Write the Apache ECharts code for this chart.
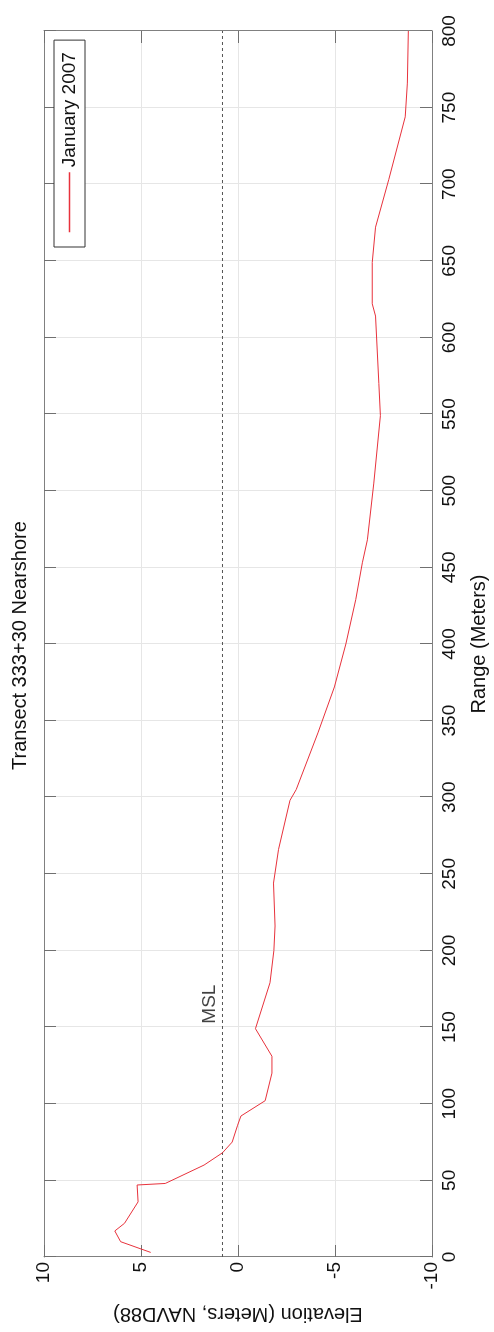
<!DOCTYPE html>
<html>
<head>
<meta charset="utf-8">
<script src="https://cdn.jsdelivr.net/npm/echarts@6/dist/echarts.min.js"></script>
<style>
  html, body { margin: 0; padding: 0; width: 494px; height: 1332px; overflow: hidden; background: #fff; }
  /* Landscape figure turned a quarter turn counter-clockwise onto the portrait page */
  #chart {
    position: absolute; left: 0; top: 0;
    width: 1332px; height: 494px;
    transform-origin: 0 0;
    transform: translateY(1332px) rotate(-90deg);
  }
</style>
</head>
<body>
<div id="chart"></div>
<script>
// Beach profile, transect 333+30 (range along transect in m, elevation in m NAVD88)
const rangeM = [3, 10, 17, 22, 36, 47, 48, 60, 68, 75, 86, 92, 102, 120, 131, 149,
  179, 200, 216, 244, 266, 298, 305, 342, 372, 400, 429, 453, 468, 505, 549, 570,
  614, 622, 649, 672, 703, 744, 766, 800];
const elevationM = [4.5, 6.05, 6.35, 5.85, 5.15, 5.2, 3.75, 1.75, 0.8, 0.3, 0.02, -0.15, -1.4, -1.75, -1.75, -0.9,
  -1.65, -1.85, -1.91, -1.83, -2.09, -2.68, -3.0, -4.12, -4.97, -5.56, -6.07, -6.41, -6.67, -7.0, -7.34, -7.26,
  -7.09, -6.92, -6.92, -7.09, -7.77, -8.62, -8.73, -8.78];
const seriesName = 'January 2007';
const mslElevation = 0.8;
const mslLabelRange = 165;
const rangeTicks = { min: 0, max: 800, interval: 50 };
const elevTicks = { min: -10, max: 10, interval: 5 };

const FONT = '"Liberation Sans", Arial, sans-serif';
const profile = rangeM.map((r, i) => [r, elevationM[i]]);

const axisLine = { show: true, onZero: false, lineStyle: { color: '#808080', width: 1 } };
const axisTick = { show: true, inside: true, length: 12, lineStyle: { color: '#707070', width: 1 } };
const splitLine = { show: true, lineStyle: { color: '#e6e6e6', width: 1 } };

const chart = echarts.init(document.getElementById('chart'), null, { renderer: 'canvas' });
chart.setOption({
  animation: false,
  backgroundColor: '#fff',
  title: {
    text: 'Transect 333+30 Nearshore',
    left: 562,
    top: 10,
    padding: 0,
    textStyle: { fontFamily: FONT, fontSize: 20, fontWeight: 'normal', color: '#111' }
  },
  legend: {
    data: [seriesName],
    left: 1085,
    top: 54,
    orient: 'horizontal',
    padding: [6, 12, 6, 14],
    itemWidth: 60,
    itemHeight: 20,
    borderColor: '#333',
    borderWidth: 1,
    backgroundColor: '#fff',
    itemStyle: { opacity: 0 },
    lineStyle: { width: 1.5 },
    textStyle: { fontFamily: FONT, fontSize: 19, color: '#111' }
  },
  grid: { left: 74, right: 31, top: 44, bottom: 57, containLabel: false },
  xAxis: [
    {
      type: 'value', position: 'bottom', ...rangeTicks,
      name: 'Range (Meters)', nameLocation: 'middle', nameGap: 37,
      nameTextStyle: { fontFamily: FONT, fontSize: 20, color: '#111' },
      axisLine, axisTick, splitLine,
      axisLabel: { fontFamily: FONT, fontSize: 19, color: '#111', margin: 8 }
    },
    {
      type: 'value', position: 'top', ...rangeTicks,
      axisLine, axisTick, splitLine: { show: false }, axisLabel: { show: false }
    }
  ],
  yAxis: [
    {
      type: 'value', position: 'left', ...elevTicks,
      name: 'Elevation (Meters, NAVD88)', nameLocation: 'middle', nameGap: 47,
      nameTextStyle: { fontFamily: FONT, fontSize: 20, color: '#111' },
      axisLine, axisTick, splitLine,
      axisLabel: { fontFamily: FONT, fontSize: 19, color: '#111', margin: 5 }
    },
    {
      type: 'value', position: 'right', ...elevTicks,
      axisLine, axisTick, splitLine: { show: false }, axisLabel: { show: false }
    }
  ],
  series: [
    {
      name: 'MSL line',
      type: 'line',
      data: [[rangeTicks.min, mslElevation], [rangeTicks.max, mslElevation]],
      symbol: 'none',
      silent: true,
      lineStyle: { color: '#555', width: 1, type: [3, 3] },
      z: 2
    },
    {
      name: 'MSL label',
      type: 'scatter',
      data: [[mslLabelRange, mslElevation]],
      symbolSize: 0,
      silent: true,
      label: {
        show: true, position: 'top', distance: 3, formatter: 'MSL',
        fontFamily: FONT, fontSize: 19, color: '#111'
      }
    },
    {
      name: seriesName,
      type: 'line',
      data: profile,
      symbol: 'none',
      lineStyle: { color: '#e8323c', width: 1 },
      itemStyle: { color: '#e8323c' },
      z: 3
    }
  ]
});
</script>
</body>
</html>
